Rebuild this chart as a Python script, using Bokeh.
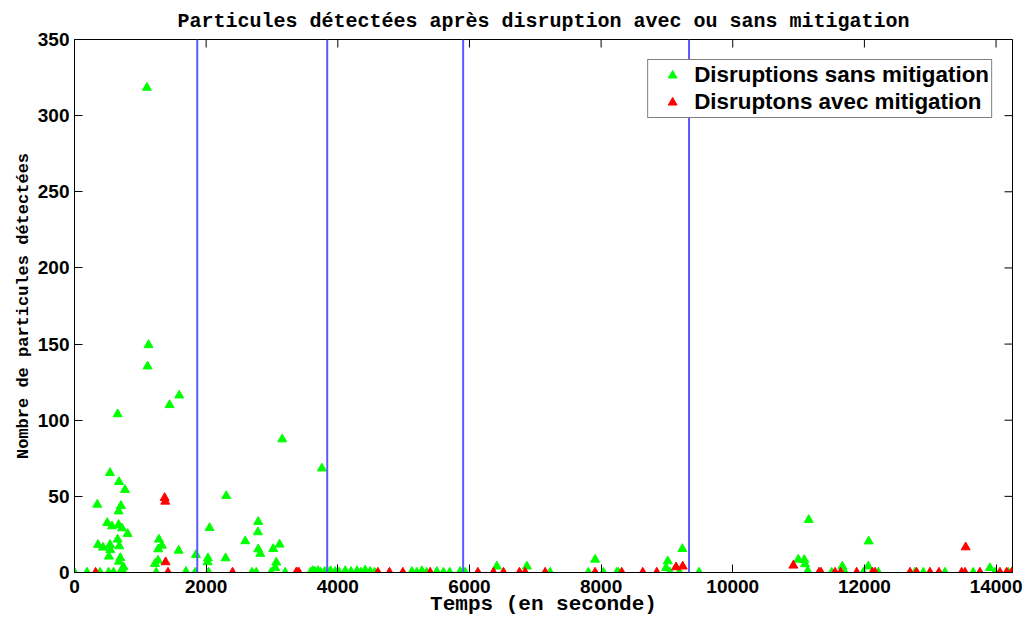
import math
from bokeh.plotting import figure
from bokeh.models import Range1d, FixedTicker, Span, Legend, LegendItem
from bokeh.embed import file_html
from bokeh.resources import INLINE

# Disruptions sans mitigation (green)
sans_t = [0, 190, 346, 357, 387, 432, 498, 518, 523, 539, 539, 544, 569, 593, 655, 655, 670, 670,
          676, 676, 680, 696, 700, 706, 720, 721, 746, 767, 807, 1100, 1110, 1125, 1222, 1242, 1268, 1272,
          1283, 1328, 1444, 1582, 1591, 1693, 1834, 1845, 2022, 2027, 2037, 2052, 2295, 2305, 2594,
          2695, 2761, 2786, 2791, 2791, 2822, 2984, 3019, 3050, 3065, 3115, 3156, 3201, 3758,
          3585, 3620, 3650, 3700, 3740, 3800, 3850, 3890, 3960, 4020, 4113, 4200, 4293, 4350, 4416,
          4492, 4560, 5125, 5200, 5277, 5350, 5505, 5605, 5700, 5859, 5935,
          6416, 6872, 7226, 7807, 7909, 8035, 8238, 8263, 8987, 9013, 9048, 9190, 9235, 9488,
          10996, 11087, 11098, 11139, 11148, 11154, 11503, 11665, 11705, 11984, 12059, 12065, 12212,
          12768, 12895, 13224, 13654, 13907, 13983, 14186]
sans_n = [0, 0, 44.6, 18.2, 0, 16.4, 32.6, 0, 10.5, 65.4, 18.2, 14.9, 30.4, 0, 104, 21.7, 40.2, 31.3,
          59.5, 7.2, 17.3, 9.6, 0, 43.8, 2, 29.1, 3.5, 54.3, 25.4, 318.4, 135.4, 149.4, 5.7, 0, 7.9, 15.3,
          21.7, 17.7, 110, 14.4, 116.3, 0.5, 0, 11.6, 6.8, 9.4, 0, 29.3, 9.4, 50.3, 20.6,
          0, 0, 26.5, 33.3, 15.3, 12.3, 0, 15.5, 3, 6.6, 18.4, 87.5, 0, 68.4,
          0, 1, 0.5, 1, 0, 0.5, 0, 1, 0.5, 0, 1, 0.5, 1, 0, 1.5,
          0.5, 0, 0.5, 0, 1, 0, 0.5, 0, 0, 0.5, 0,
          4, 4, 0, 0, 8.5, 0, 0, 0, 3, 7.4, 0, 0, 15.5, 0,
          8.5, 8.3, 5.5, 1, 0, 34.6, 0, 4, 0, 0, 4, 20.5, 0,
          0, 0, 0, 0, 3, 0, 0]

# Disruptons avec mitigation (red)
avec_t = [321, 1369, 1379, 1384, 1420, 2401, 3368, 3379, 3409, 4609, 4785, 4988, 5403, 6128, 6365,
          6517, 6760, 6846, 7150, 7909, 8314, 8633, 8846, 9139, 9240, 10921, 11311, 11341, 11554,
          11640, 11883, 12120, 12161, 12693, 12794, 12996, 13133, 13478, 13528, 13539, 13755,
          14059, 14161, 14237]
avec_n = [0, 49, 46.6, 6.8, 0, 0, 0, 0, 0, 0, 0, 0, 0, 0, 0,
          0, 0, 0, 0, 0, 0, 0, 0, 3.5, 4, 4.6, 0, 0, 0,
          0, 0, 0, 0, 0, 0, 0, 0, 0, 0, 16.6, 0,
          0, 0, 0]

vlines = [1865, 3839, 5904, 9336]
x_ticks = [0, 2000, 4000, 6000, 8000, 10000, 12000, 14000]
y_ticks = [0, 50, 100, 150, 200, 250, 300, 350]
X_MAX = 14250
Y_MAX = 350

TICK_FONT = "Liberation Sans"
MONO = "Liberation Mono"

p = figure(width=1023, height=618, output_backend="svg", toolbar_location=None,
           x_range=Range1d(0, X_MAX), y_range=Range1d(0, Y_MAX),
           min_border_left=74, min_border_right=11, min_border_top=39, min_border_bottom=46)
p.background_fill_color = "white"
p.border_fill_color = "white"
p.outline_line_color = "black"
p.outline_line_width = 1
p.grid.visible = False

p.title.text = "Particules détectées après disruption avec ou sans mitigation"
p.title.align = "center"
p.title.text_font = MONO
p.title.text_font_style = "bold"
p.title.text_font_size = "20px"
p.title.text_color = "black"
p.title.standoff = 14

for ax in p.xaxis:
    ax.ticker = FixedTicker(ticks=x_ticks)
    ax.axis_label = "Temps (en seconde)"
    ax.axis_label_text_font_size = "21px"
    ax.major_label_standoff = 7
    ax.axis_label_standoff = -3
for ax in p.yaxis:
    ax.ticker = FixedTicker(ticks=y_ticks)
    ax.axis_label = "Nombre de particules détectées"
    ax.axis_label_text_font_size = "17px"
    ax.major_label_standoff = 5
    ax.axis_label_standoff = 2

for ax in list(p.xaxis) + list(p.yaxis):
    ax.major_label_text_font = TICK_FONT
    ax.major_label_text_font_style = "bold"
    ax.major_label_text_font_size = "19px"
    ax.major_label_text_color = "black"
    ax.axis_label_text_font = MONO
    ax.axis_label_text_font_style = "bold"
    ax.axis_label_text_color = "black"
    ax.major_tick_in = 8
    ax.major_tick_out = 0
    ax.minor_tick_line_color = None
    ax.axis_line_color = "black"
    ax.major_tick_line_color = "black"

# inward ticks on top and right edges (dash markers clipped by the frame)
p.scatter(x_ticks, [Y_MAX] * len(x_ticks), marker="dash", angle=math.pi / 2, size=16,
          line_color="black", line_width=1)
p.scatter([X_MAX] * len(y_ticks), y_ticks, marker="dash", size=16,
          line_color="black", line_width=1)

for v in vlines:
    p.add_layout(Span(location=v, dimension="height", line_color="#5a5aff", line_width=2))

r_sans = p.scatter(sans_t, sans_n, marker="triangle", size=9,
                   fill_color="#00ff00", line_color="#00ff00")
r_avec = p.scatter(avec_t, avec_n, marker="triangle", size=9,
                   fill_color="#ff0000", line_color="#ff0000")

legend = Legend(items=[LegendItem(label="Disruptions sans mitigation", renderers=[r_sans]),
                       LegendItem(label="Disruptons avec mitigation", renderers=[r_avec])],
                location="top_right")
legend.margin = 20
legend.padding = 2
legend.spacing = 1
legend.glyph_width = 44
legend.glyph_height = 22
legend.label_height = 22
legend.label_standoff = 0
legend.label_text_font = TICK_FONT
legend.label_text_font_style = "bold"
legend.label_text_font_size = "22.4px"
legend.label_text_color = "black"
legend.border_line_color = "black"
legend.border_line_width = 1
legend.background_fill_alpha = 1
p.add_layout(legend)

open("out.html", "w").write(file_html(p, INLINE))
